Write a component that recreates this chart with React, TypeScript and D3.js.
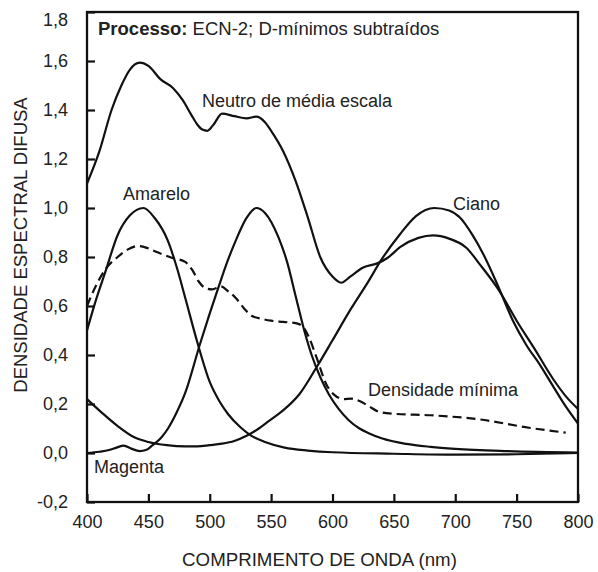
import React, { useEffect, useRef } from 'react';
import * as d3 from 'd3';

// wavelengths (nm) and densities
const neutroNm = [400, 410, 420, 428, 435, 443, 450, 460, 470, 478, 485, 490, 494, 498, 503, 510, 520, 530, 538, 545, 550, 560, 570, 580, 590, 600, 607, 615, 625, 637, 645, 655, 670, 682, 695, 709, 720, 736, 750, 764, 780, 791, 800];
const neutroD = [1.10, 1.23, 1.40, 1.50, 1.565, 1.593, 1.58, 1.525, 1.49, 1.44, 1.38, 1.34, 1.32, 1.315, 1.34, 1.385, 1.375, 1.366, 1.373, 1.35, 1.315, 1.23, 1.11, 0.96, 0.80, 0.72, 0.695, 0.722, 0.757, 0.775, 0.797, 0.84, 0.878, 0.888, 0.875, 0.838, 0.77, 0.661, 0.54, 0.43, 0.30, 0.226, 0.18];

const cianoNm = [400, 412, 425, 439, 450, 465, 480, 490, 500, 510, 520, 530, 540, 548, 560, 573, 587, 600, 614, 628, 640, 655, 668, 683, 695, 704, 714, 723, 735, 747, 758, 769, 780, 790, 800];
const cianoD = [0.22, 0.165, 0.11, 0.063, 0.045, 0.032, 0.027, 0.027, 0.032, 0.038, 0.049, 0.07, 0.10, 0.13, 0.175, 0.24, 0.35, 0.46, 0.58, 0.69, 0.79, 0.893, 0.967, 1.0, 0.99, 0.96, 0.89, 0.81, 0.68, 0.54, 0.44, 0.36, 0.27, 0.19, 0.12];

const amareloNm = [400, 407, 415, 425, 435, 446, 455, 466, 473, 480, 490, 500, 508, 515, 525, 534, 545, 561, 580, 600, 650, 700, 750, 800];
const amareloD = [0.50, 0.62, 0.74, 0.89, 0.97, 1.0, 0.96, 0.865, 0.76, 0.634, 0.45, 0.29, 0.21, 0.158, 0.105, 0.07, 0.045, 0.022, 0.01, 0.003, -0.003, -0.007, -0.005, 0.0];

const magentaNm = [400, 410, 418, 424, 430, 436, 443, 448, 453, 460, 466, 473, 480, 492, 500, 507, 515, 521, 530, 538, 545, 556, 563, 570, 577, 583, 590, 597, 605, 613, 622, 630, 640, 660, 680, 700, 740, 800];
const magentaD = [0.0, 0.005, 0.012, 0.022, 0.03, 0.018, 0.008, 0.012, 0.03, 0.06, 0.10, 0.165, 0.245, 0.444, 0.57, 0.675, 0.79, 0.865, 0.96, 1.0, 0.98, 0.88, 0.78, 0.64, 0.50, 0.40, 0.31, 0.24, 0.18, 0.135, 0.10, 0.08, 0.06, 0.037, 0.025, 0.017, 0.008, 0.002];

const minimaNm = [400, 407, 415, 425, 433, 442, 450, 458, 469, 480, 486, 491, 497, 502, 509, 515, 521, 528, 534, 542, 550, 560, 570, 576, 581, 587, 595, 602, 609, 615, 622, 630, 638, 650, 680, 720, 760, 790];
const minimaD = [0.60, 0.68, 0.75, 0.80, 0.83, 0.845, 0.835, 0.818, 0.797, 0.78, 0.745, 0.70, 0.672, 0.668, 0.68, 0.66, 0.634, 0.59, 0.56, 0.548, 0.54, 0.535, 0.53, 0.515, 0.47, 0.39, 0.28, 0.235, 0.22, 0.222, 0.212, 0.19, 0.168, 0.16, 0.154, 0.137, 0.103, 0.083];

const xTicks = [400, 450, 500, 550, 600, 650, 700, 750, 800];
const yTicks = [-0.2, 0, 0.2, 0.4, 0.6, 0.8, 1.0, 1.2, 1.4, 1.6, 1.8];

const W = 598;
const H = 572;
const m = { top: 12, right: 20, bottom: 70, left: 87 };
const FONT = '"Liberation Sans", Arial, Helvetica, sans-serif';
const INK = '#111';

const App = () => {
  const ref = useRef<SVGSVGElement>(null);

  useEffect(() => {
    const svg = d3.select(ref.current);
    svg.selectAll('*').remove();

    const x = d3.scaleLinear().domain([400, 800]).range([m.left, W - m.right]);
    const y = d3.scaleLinear().domain([-0.2, 1.8]).range([H - m.bottom, m.top]);
    const fmt = (d: any) => (+d).toFixed(1).replace('.', ',');

    // axes with inward ticks
    const gy = svg.append('g')
      .attr('transform', `translate(${m.left},0)`)
      .call(d3.axisLeft(y).tickValues(yTicks).tickSize(-8).tickPadding(19).tickFormat(fmt));
    const gx = svg.append('g')
      .attr('transform', `translate(0,${H - m.bottom})`)
      .call(d3.axisBottom(x).tickValues(xTicks).tickSize(-8).tickPadding(13));

    [gx, gy].forEach((g) => {
      g.select('.domain').remove();
      g.selectAll('line').attr('stroke', INK).attr('stroke-width', 2.2);
      g.selectAll('text').attr('font-family', FONT).attr('font-size', 18).attr('fill', '#222');
    });
    // top label sits a bit lower than its tick
    gy.selectAll('.tick text').filter((d: any) => d === 1.8).attr('y', 8);

    const line = d3.line<[number, number]>()
      .x((d) => x(d[0]))
      .y((d) => y(d[1]))
      .curve(d3.curveMonotoneX);

    const series = [
      { nm: neutroNm, d: neutroD, dash: null },
      { nm: cianoNm, d: cianoD, dash: null },
      { nm: amareloNm, d: amareloD, dash: null },
      { nm: magentaNm, d: magentaD, dash: null },
      { nm: minimaNm, d: minimaD, dash: '9,5' },
    ];

    series.forEach((s) => {
      const pts = s.nm.map((v, i) => [v, s.d[i]] as [number, number]);
      svg.append('path')
        .attr('d', line(pts))
        .attr('fill', 'none')
        .attr('stroke', INK)
        .attr('stroke-width', 2.2)
        .attr('stroke-dasharray', s.dash);
    });

    // frame
    svg.append('rect')
      .attr('x', m.left)
      .attr('y', m.top)
      .attr('width', W - m.left - m.right)
      .attr('height', H - m.top - m.bottom)
      .attr('fill', 'none')
      .attr('stroke', INK)
      .attr('stroke-width', 2.3);

    const label = (tx: number, ty: number, t: string) =>
      svg.append('text')
        .attr('x', tx)
        .attr('y', ty)
        .attr('font-family', FONT)
        .attr('font-size', 18)
        .attr('fill', '#222')
        .text(t);

    label(202, 107, 'Neutro de média escala');
    label(123, 200, 'Amarelo');
    label(453, 210, 'Ciano');
    label(368, 396, 'Densidade mínima');
    label(94, 473, 'Magenta');

    const proc = svg.append('text')
      .attr('x', 98)
      .attr('y', 35)
      .attr('font-family', FONT)
      .attr('font-size', 18.5)
      .attr('fill', '#222');
    proc.append('tspan').attr('font-weight', 'bold').text('Processo:');
    proc.append('tspan').text(' ECN-2; D-mínimos subtraídos');

    // axis titles
    svg.append('text')
      .attr('x', 319.5)
      .attr('y', 566)
      .attr('text-anchor', 'middle')
      .attr('font-family', FONT)
      .attr('font-size', 18.7)
      .attr('fill', '#222')
      .text('COMPRIMENTO DE ONDA (nm)');

    svg.append('text')
      .attr('transform', `translate(27,245) rotate(-90)`)
      .attr('text-anchor', 'middle')
      .attr('font-family', FONT)
      .attr('font-size', 18.5)
      .attr('fill', '#222')
      .text('DENSIDADE ESPECTRAL DIFUSA');
  }, []);

  return (
    <svg
      ref={ref}
      width={W}
      height={H}
      style={{ position: 'absolute', left: 0, top: 0, background: '#fff' }}
    />
  );
};

export default App;
